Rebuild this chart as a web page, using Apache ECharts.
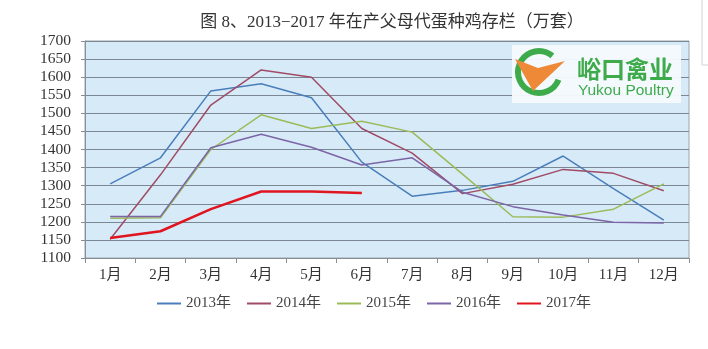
<!DOCTYPE html>
<html>
<head>
<meta charset="utf-8">
<script src="https://cdn.jsdelivr.net/npm/echarts@6/dist/echarts.min.js"></script>
<style>
  html, body { margin: 0; padding: 0; background: #ffffff; }
  #chart { width: 708px; height: 349px; }
</style>
</head>
<body>
<div id="chart"></div>
<script>
// Months on the category axis
const months = ['1月', '2月', '3月', '4月', '5月', '6月', '7月', '8月', '9月', '10月', '11月', '12月'];

// Parent-stock layer breeders in production (10k sets), per year
const y2013 = [1305, 1377, 1562, 1582, 1543, 1365, 1271, 1287, 1312, 1382, 1292, 1205];
const y2014 = [1152, 1330, 1523, 1620, 1600, 1458, 1390, 1278, 1304, 1345, 1334, 1286];
const y2015 = [1210, 1211, 1400, 1496, 1458, 1478, 1448, 1332, 1214, 1213, 1235, 1305];
const y2016 = [1215, 1215, 1405, 1442, 1406, 1357, 1377, 1282, 1242, 1219, 1199, 1197];
const y2017 = [1155, 1174, 1235, 1284, 1284, 1280];

const seriesNames = ['2013年', '2014年', '2015年', '2016年', '2017年'];

const serif = '"Liberation Serif", "DejaVu Serif", "Noto Sans CJK SC", serif';
const cjk = '"Noto Sans CJK SC", sans-serif';

const chart = echarts.init(document.getElementById('chart'), null, { renderer: 'canvas' });

const lineStyleOf = (color, width) => ({ color: color, width: width });

chart.setOption({
  animation: false,
  backgroundColor: '#ffffff',
  title: {
    text: '图 8、2013−2017 年在产父母代蛋种鸡存栏（万套）',
    left: 387,
    textAlign: 'center',
    top: 9,
    textStyle: { fontFamily: serif, fontSize: 17, fontWeight: 'normal', color: '#333333' }
  },
  legend: {
    data: seriesNames,
    left: 152,
    top: 291,
    icon: 'rect',
    itemWidth: 24,
    itemHeight: 2,
    itemGap: 16,
    textStyle: { fontFamily: serif, fontSize: 15, color: '#444444' }
  },
  grid: {
    left: 85,
    right: 19,
    top: 41,
    bottom: 91,
    show: true,
    backgroundColor: '#d7eaf8',
    borderColor: '#9aa4ae',
    borderWidth: 1
  },
  xAxis: {
    type: 'category',
    data: months,
    boundaryGap: true,
    axisLine: { show: true, lineStyle: { color: '#8a8f96', width: 1 } },
    axisTick: { show: true, length: 5, lineStyle: { color: '#8a8f96' } },
    axisLabel: { fontFamily: serif, fontSize: 15, color: '#333333', margin: 10 }
  },
  yAxis: {
    type: 'value',
    min: 1100,
    max: 1700,
    interval: 50,
    axisLine: { show: true, lineStyle: { color: '#8a8f96', width: 1 } },
    axisTick: { show: true, length: 4, lineStyle: { color: '#8a8f96' } },
    axisLabel: { fontFamily: serif, fontSize: 15.5, color: '#333333', margin: 14,
      formatter: (v) => String(v) },
    splitLine: { show: true, lineStyle: { color: '#7b8793', width: 1 } }
  },
  series: [
    { name: '2013年', type: 'line', data: y2013, symbol: 'none', color: '#4a7ebb', lineStyle: lineStyleOf('#4a7ebb', 1.5), z: 2 },
    { name: '2014年', type: 'line', data: y2014, symbol: 'none', color: '#a04c66', lineStyle: lineStyleOf('#a04c66', 1.5), z: 2 },
    { name: '2015年', type: 'line', data: y2015, symbol: 'none', color: '#9bbb59', lineStyle: lineStyleOf('#9bbb59', 1.5), z: 2 },
    { name: '2016年', type: 'line', data: y2016, symbol: 'none', color: '#7b65a6', lineStyle: lineStyleOf('#7b65a6', 1.5), z: 2 },
    { name: '2017年', type: 'line', data: y2017, symbol: 'none', color: '#e0151f', lineStyle: lineStyleOf('#e0151f', 2.5), z: 3 }
  ],
  graphic: [
    // page edge frame in the top-right corner
    { type: 'polyline', silent: true, shape: { points: [[702, 0], [702, 65], [708, 65]] },
      style: { stroke: '#d4d4d4', lineWidth: 1, fill: null } },
    // company logo panel
    { type: 'rect', silent: true, z: 100, shape: { x: 512, y: 45, width: 169, height: 58 },
      style: { fill: 'rgba(246,250,253,0.95)' } },
    { type: 'arc', silent: true, z: 101,
      shape: { cx: 539, cy: 72, r: 21, startAngle: Math.PI * 0.12, endAngle: Math.PI * 1.72, clockwise: true },
      style: { stroke: '#3eab4b', lineWidth: 6, fill: null } },
    { type: 'polygon', silent: true, z: 102,
      shape: { points: [[515, 59], [538, 68], [565, 61], [533, 91]] },
      style: { fill: '#ee8a37' } },
    { type: 'text', silent: true, z: 102, x: 577, y: 69,
      style: { text: '峪口禽业', font: 'bold 24px ' + cjk, fill: '#3eab4b', verticalAlign: 'middle' } },
    { type: 'text', silent: true, z: 102, x: 578, y: 91,
      style: { text: 'Yukou Poultry', font: '15.5px "Liberation Sans", Arial, sans-serif', fill: '#3eab4b', verticalAlign: 'middle' } }
  ]
});
</script>
</body>
</html>
